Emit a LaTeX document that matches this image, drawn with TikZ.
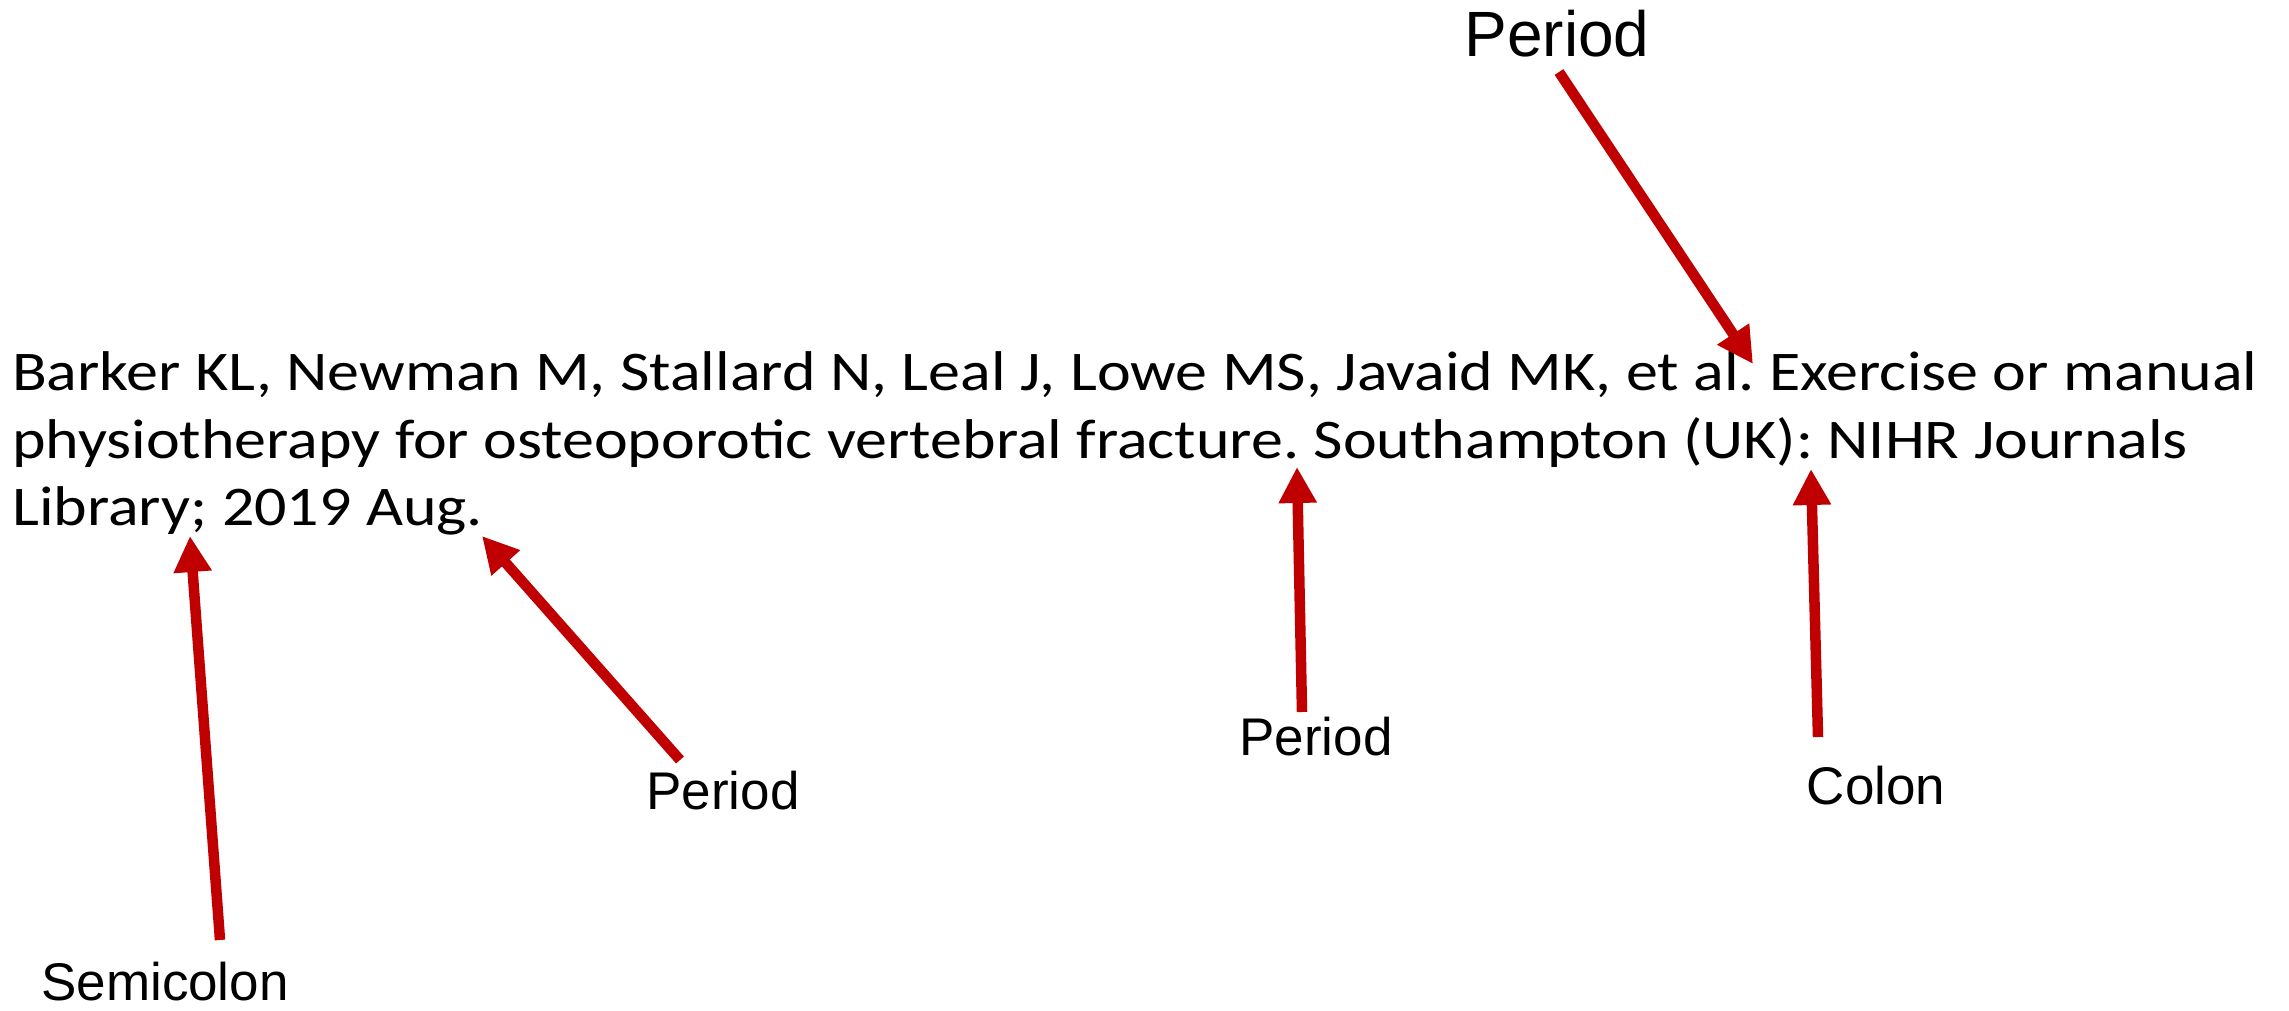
\documentclass[tikz,border=0pt]{standalone}
\usepackage{fontspec}
\usepackage{graphicx}
\usetikzlibrary{arrows.meta}
\newfontfamily\bodyfont{Carlito}
\newfontfamily\labelfont{Liberation Sans}
\definecolor{arrowred}{HTML}{C00000}
\newcommand{\refstretch}[1]{\scalebox{1.142}[1]{\frenchspacing #1}}
\begin{document}
\begin{tikzpicture}[x=1pt,y=-1pt,
  refline/.style={anchor=base west, inner sep=0pt, font=\bodyfont\fontsize{56}{66}\selectfont},
  biglabel/.style={anchor=base, inner sep=0pt, font=\labelfont\fontsize{64}{70}\selectfont},
  smalllabel/.style={anchor=base, inner sep=0pt, font=\labelfont\fontsize{53}{60}\selectfont},
  pointer/.style={draw=arrowred, line width=10.5pt, line cap=butt,
    -{Triangle[width=36pt,length=36pt]}}]
\useasboundingbox (0,0) rectangle (2289,1011);
% reference text
\node[refline] (l1) at (12,390) {\refstretch{Barker KL, Newman M, Stallard N, Leal J, Lowe MS, Javaid MK, et al. Exercise or manual}};
\node[refline] (l2) at (12,458) {\refstretch{physiotherapy for osteoporotic vertebral fracture. Southampton (UK): NIHR Journals}};
\node[refline] (l3) at (12,525) {\refstretch{Library; 2019 Aug.}};
% labels
\node[biglabel] (ptop) at (1557,57) {Period};
\node[smalllabel] (semi) at (165,1000) {Semicolon};
\node[smalllabel] (pleft) at (723,809) {Period};
\node[smalllabel] (pmid) at (1316,755) {Period};
\node[smalllabel] (colon) at (1876,804) {Colon};
% arrow ends
\coordinate (ttop) at (1559,72);   \coordinate (htop) at (1753,364);
\coordinate (tsemi) at (220,940);  \coordinate (hsemi) at (190,536);
\coordinate (tpl) at (680,760);    \coordinate (hpl) at (482,536);
\coordinate (tpm) at (1302,712);   \coordinate (hpm) at (1297,467);
\coordinate (tcol) at (1818,737);  \coordinate (hcol) at (1811,469);
\draw[pointer] (ttop) -- (htop);
\draw[pointer] (tsemi) -- (hsemi);
\draw[pointer] (tpl) -- (hpl);
\draw[pointer] (tpm) -- (hpm);
\draw[pointer] (tcol) -- (hcol);
\end{tikzpicture}
\end{document}
